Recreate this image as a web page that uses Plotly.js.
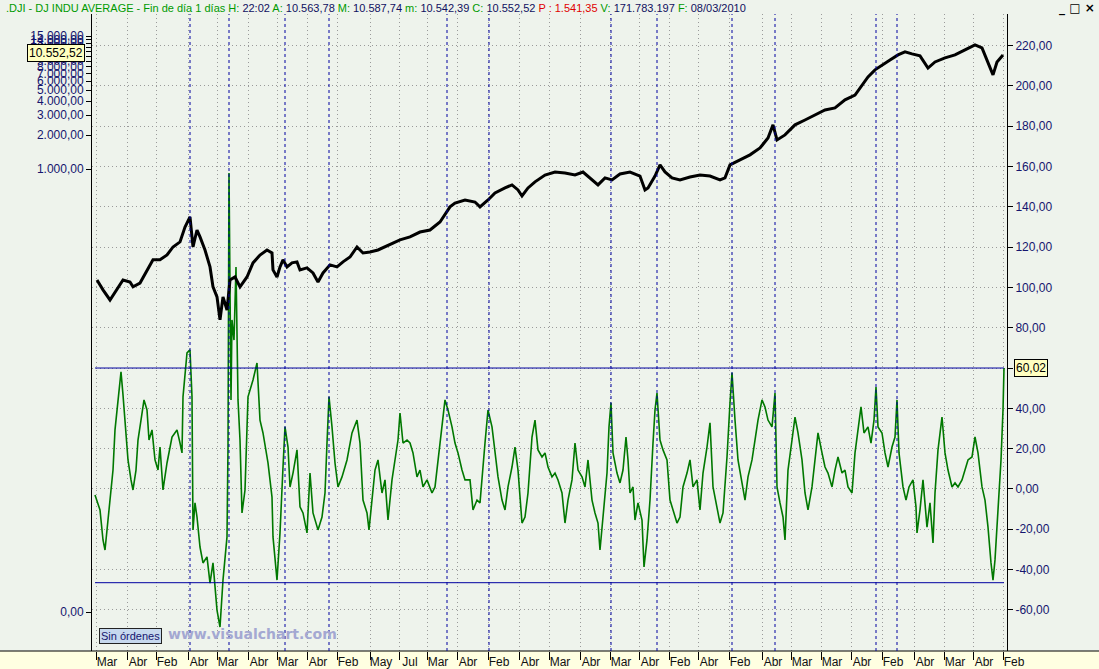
<!DOCTYPE html>
<html>
<head>
<meta charset="utf-8">
<script src="https://cdn.plot.ly/plotly-3.0.1.min.js"></script>
<style>
html,body{margin:0;padding:0;background:#EEF3EC;}
#chart{width:1099px;height:669px;}
</style>
</head>
<body>
<div id="chart"></div>
<script>
// ---- x axis: bar index, tick labels ----
const tickLabels = ['Mar','Abr','Feb','Abr','Mar','Abr','Mar','Abr','Feb','May','Jul','Mar','Abr','Feb','Abr','Mar','Abr','Mar','Abr','Feb','Abr','Feb','Abr','Mar','Mar','Abr','Feb','Abr','Mar','Abr','Feb'];
const tickBars = [1,32,61,93,122,153,182,212,242,275,304,332,362,393,424,454,485,515,544,574,603,634,667,696,726,756,787,819,849,878,908];

// ---- cycle marks (blue dashed verticals) ----
const cycleMarks = [95,134,190,234,352,394,516,562,637,680,781,802];

// ---- oscillator band levels ----
const bandLevels = [60.02, -46.5];

// ---- price line (black), right-axis scale ----
const priceBar = [2,8,15,22,28,35,38,45,52,58,65,72,78,85,90,95,98,102,105,110,115,118,122,125,128,132,135,140,145,152,158,165,172,177,178,182,185,188,192,197,202,205,212,218,223,228,235,242,248,255,262,268,275,283,305,315,325,335,345,350,355,360,370,380,385,393,400,410,417,423,427,433,440,450,460,470,480,488,495,503,510,517,525,535,545,550,553,560,565,570,577,585,595,605,615,625,630,635,645,655,665,673,678,682,690,700,710,720,730,740,750,760,767,773,780,787,795,803,810,817,825,833,840,850,860,870,880,887,893,898,902,908];
const priceVal = [103.7,98.8,93.8,98.8,103.7,102.7,100.3,102.2,108.7,113.7,113.7,116.1,120.1,122.6,130.0,135.0,120.1,128.5,125.1,118.6,110.2,100.3,95.3,83.9,95.3,88.8,103.7,105.2,100.3,105.2,112.2,116.1,118.6,117.1,108.7,105.2,110.2,113.7,110.2,112.2,112.7,108.7,109.7,107.2,102.7,107.2,111.2,110.2,112.7,115.1,120.1,117.1,117.6,118.6,123.6,125.1,127.5,128.5,132.5,136.0,140.0,141.9,143.4,142.4,140.0,143.4,146.9,149.4,150.9,148.4,145.4,149.4,152.4,155.8,157.3,156.8,155.8,157.3,154.4,150.9,154.4,153.4,156.3,157.3,155.3,148.4,149.4,155.3,160.8,157.3,154.4,153.4,154.8,155.8,155.3,153.4,154.4,160.8,163.3,165.8,169.2,174.2,180.7,173.2,175.7,180.7,183.1,185.6,188.1,189.1,193.1,195.5,200.5,204.5,208.0,210.4,212.9,215.4,216.9,215.9,214.9,208.9,211.9,213.9,215.4,217.9,220.4,218.9,211.9,205.5,211.9,215.4];

// ---- oscillator (green) ----
const oscBar = [0,5,8,10,13,15,18,20,23,26,28,31,33,36,38,41,43,46,49,52,54,57,60,63,65,68,72,77,82,85,87,88,92,95,97,98,100,102,105,108,112,115,118,122,125,128,132,133,134,136,137,139,141,143,145,147,150,153,158,162,165,168,173,177,178,182,185,188,190,193,195,198,202,205,208,212,215,218,223,227,230,232,234,237,240,243,247,252,257,262,265,268,272,274,277,280,283,287,290,293,297,300,303,305,308,312,315,318,322,325,328,332,337,340,343,347,350,353,357,360,363,367,370,375,378,382,385,390,393,397,400,403,407,410,413,417,420,423,427,430,433,437,440,443,447,450,453,457,460,463,467,470,473,477,480,483,487,490,493,497,500,503,505,508,512,514,516,518,522,525,528,531,533,535,538,540,543,547,549,552,555,558,560,562,565,568,572,575,578,582,585,588,592,595,598,602,605,608,612,615,618,622,625,628,632,635,637,640,643,647,650,653,657,660,663,667,670,673,677,680,682,685,688,690,693,697,700,703,707,710,713,717,720,723,727,730,733,737,740,743,747,750,753,757,760,763,766,769,773,776,779,781,783,787,790,793,797,800,802,804,808,811,814,818,821,822,825,828,832,835,838,840,843,847,850,853,857,860,863,867,870,873,877,880,883,887,890,893,896,898,900,903,906,908,909];
const oscVal = [-3.0,-10.4,-25.3,-30.3,-15.4,-5.5,9.4,29.3,44.2,58.1,46.7,29.3,14.4,4.5,-0.5,9.4,24.3,34.2,44.2,39.2,24.3,29.3,14.4,9.4,20.8,-0.5,12.9,25.8,29.3,22.8,17.9,45.7,67.5,69.0,45.7,-20.3,-6.9,-13.9,-28.8,-36.7,-33.7,-46.7,-36.7,-60.1,-68.5,-45.2,-23.8,20.8,156.8,44.2,83.9,73.9,110.2,44.2,24.3,-11.9,-0.5,45.7,54.1,62.5,34.2,27.8,12.9,-4.0,-23.8,-45.2,-21.8,10.9,30.8,20.8,1.0,7.9,19.4,-8.9,-11.9,-21.8,7.9,-11.9,-20.3,-13.9,-2.0,22.8,45.7,30.8,12.9,1.0,6.0,14.4,27.8,34.2,22.8,-5.5,-11.9,-20.3,-5.5,9.4,14.4,-2.0,4.5,-15.4,4.5,14.4,24.3,37.7,22.8,24.3,22.8,17.9,6.0,9.4,1.0,4.5,-2.0,1.0,14.4,29.3,44.2,39.2,30.8,22.8,17.9,9.4,4.5,4.5,-10.4,-5.5,-6.9,22.8,39.2,30.8,19.4,6.0,-5.5,-10.4,1.0,10.9,20.8,9.4,-16.9,-13.9,-2.0,25.8,34.2,19.4,15.9,17.9,10.9,6.0,7.9,4.5,-2.0,-16.9,-5.5,4.5,22.8,9.4,6.0,1.0,14.4,-5.5,-11.9,-16.9,-30.3,-13.9,7.9,30.8,42.7,17.9,7.9,3.0,9.4,25.8,14.4,-2.0,1.0,-15.4,-6.9,-15.4,-38.7,-25.3,-5.5,22.8,39.2,47.6,24.3,19.4,14.4,-5.5,-10.4,-16.9,-13.9,1.0,7.9,14.4,1.0,4.5,-10.4,7.9,20.8,32.8,1.0,-10.4,-16.9,-11.9,15.9,42.7,57.6,34.2,14.4,3.0,-5.5,6.0,14.4,24.3,34.2,44.2,40.7,34.2,30.8,47.6,1.0,-6.9,-13.9,-25.3,9.4,24.3,35.7,27.8,14.4,-2.0,-10.4,1.0,14.4,27.8,17.9,10.9,7.9,1.0,9.4,15.9,7.9,9.4,1.0,-2.0,17.9,30.8,40.7,27.8,30.8,22.8,34.2,50.6,30.8,27.8,17.9,10.9,20.8,25.8,44.2,17.9,1.0,-5.5,1.0,4.5,-8.9,-21.8,-10.4,4.5,-18.9,-6.9,-26.8,-2.0,19.4,35.7,17.9,9.4,1.0,3.0,1.0,4.5,9.4,14.4,15.9,25.8,17.9,1.0,-5.5,-18.9,-36.7,-45.2,-35.2,-10.4,14.4,39.2,60.0];

// ---- axis ticks ----
const rightTicks = [220,200,180,160,140,120,100,80,60,40,20,0,-20,-40,-60];
const leftTicks = [1000,2000,3000,4000,5000,6000,7000,8000,9000,10000,11000,12000,13000,14000,15000];
const leftZeroTick = 0.12;
const lastClose = 10552.52;
const lastOsc = 60.02;

function fmtES(v){
  const neg = v < 0;
  const s = Math.abs(v).toFixed(2).split('.');
  const intp = s[0].replace(/\B(?=(\d{3})+(?!\d))/g, '.');
  return (neg ? '-' : '') + intp + ',' + s[1];
}

const navy = '#15156e';
const FONT = 'Liberation Sans, Arial, sans-serif';

const traces = [
  {x: oscBar, y: oscVal, type: 'scatter', mode: 'lines', line: {color: '#007800', width: 1.6}, hoverinfo: 'skip', showlegend: false},
  {x: priceBar, y: priceVal, type: 'scatter', mode: 'lines', line: {color: '#000000', width: 3}, hoverinfo: 'skip', showlegend: false},
  {x: [], y: [], type: 'scatter', yaxis: 'y2', showlegend: false, hoverinfo: 'skip'}
];

const shapes = [];
// yellow x-axis band
shapes.push({type: 'rect', xref: 'paper', yref: 'paper', x0: -0.11, x1: 1.11, y0: -0.04, y1: 0, fillcolor: '#FFFFE1', line: {width: 0}, layer: 'below'});
// bottom border line across
shapes.push({type: 'line', xref: 'paper', yref: 'paper', x0: -0.11, x1: 1.11, y0: 0, y1: 0, line: {color: '#000', width: 1}});
cycleMarks.forEach(b => shapes.push({type: 'line', xref: 'x', yref: 'paper', x0: b, x1: b, y0: 0, y1: 1, line: {color: '#0000A0', width: 1, dash: '3px,3px'}}));
bandLevels.forEach(v => shapes.push({type: 'line', xref: 'x', yref: 'y', x0: oscBar[0], x1: oscBar[oscBar.length-1], y0: v, y1: v, line: {color: '#0000A0', width: 1}}));

const G = '#009a00', B = '#101060', R = '#e00000';
function sp(c, t){ return '<span style="color:' + c + '">' + t + '</span>'; }
const header = sp(G, '.DJI - DJ INDU AVERAGE - Fin de día 1 días H: ') + sp(B, '22:02') +
  sp(G, ' A: ') + sp(B, '10.563,78') +
  sp(G, ' M: ') + sp(B, '10.587,74') +
  sp(G, ' m: ') + sp(B, '10.542,39') +
  sp(G, ' C: ') + sp(B, '10.552,52') +
  sp(R, ' P : 1.541,35') +
  sp(G, ' V: ') + sp(B, '171.783.197') +
  sp(G, ' F: ') + sp(B, '08/03/2010');

const annotations = [
  {xref: 'paper', yref: 'paper', x: -0.0962, y: 1.0094, xanchor: 'left', yanchor: 'middle', text: header, showarrow: false, font: {family: FONT, size: 11}},
  {xref: 'paper', yref: 'paper', x: 1.0765, y: 1.0094, xanchor: 'center', yanchor: 'middle', text: '<b>_ □ ×</b>', showarrow: false, font: {family: 'DejaVu Sans', size: 12, color: '#000'}},
  {xref: 'paper', yref: 'y2', x: -0.0077, y: Math.log10(lastClose), xanchor: 'right', yanchor: 'middle', text: fmtES(lastClose), showarrow: false, bgcolor: '#FFFFC0', bordercolor: '#000', borderwidth: 1, borderpad: 1, font: {family: FONT, size: 12, color: '#000'}},
  {xref: 'paper', yref: 'y', x: 1.0077, y: lastOsc, xanchor: 'left', yanchor: 'middle', text: fmtES(lastOsc), showarrow: false, bgcolor: '#FFFFC0', bordercolor: '#000', borderwidth: 1, borderpad: 1, font: {family: FONT, size: 12, color: '#000'}},
  {xref: 'paper', yref: 'paper', x: 0.0426, y: 0.0235, xanchor: 'center', yanchor: 'middle', text: 'Sin órdenes', showarrow: false, bgcolor: '#C6D8EE', bordercolor: '#222', borderwidth: 1, borderpad: 1, font: {family: FONT, size: 11, color: '#15156e'}},
  {xref: 'paper', yref: 'paper', x: 0.1749, y: 0.0267, xanchor: 'center', yanchor: 'middle', text: '<b>www.visualchart.com</b>', showarrow: false, font: {family: 'DejaVu Sans', size: 14, color: '#A4A8D2'}}
];

const layout = {
  width: 1099, height: 669,
  margin: {l: 92, r: 92, t: 14, b: 18, pad: 0},
  paper_bgcolor: '#EEF3EC', plot_bgcolor: '#EEF3EC',
  font: {family: FONT, size: 12, color: navy},
  showlegend: false,
  xaxis: {
    range: [-3, 912], tickmode: 'array', tickvals: tickBars, ticktext: tickLabels,
    ticks: 'outside', ticklen: 8, tickcolor: '#000', tickwidth: 1,
    ticklabelshift: 11, ticklabelstandoff: -8,
    tickfont: {family: FONT, size: 12, color: '#111'},
    showgrid: true, gridcolor: '#9a9a9a', griddash: '1px,3px', gridwidth: 1,
    showline: false, zeroline: false, fixedrange: true
  },
  yaxis: {
    side: 'right', range: [-80.4, 235.7], tickmode: 'array', tickvals: rightTicks, ticktext: rightTicks.map(fmtES),
    ticks: 'outside', ticklen: 5, tickcolor: '#000',
    tickfont: {family: FONT, size: 12, color: navy},
    showgrid: true, gridcolor: '#9a9a9a', griddash: '1px,3px', gridwidth: 1,
    showline: true, linecolor: '#000', linewidth: 1, zeroline: false, fixedrange: true
  },
  yaxis2: {
    overlaying: 'y', side: 'left', type: 'log', range: [-1.265, 4.372],
    tickmode: 'array', tickvals: leftTicks.concat([leftZeroTick]), ticktext: leftTicks.map(fmtES).concat(['0,00']),
    ticks: 'outside', ticklen: 5, tickcolor: '#000',
    tickfont: {family: FONT, size: 12, color: navy},
    showgrid: false, showline: true, linecolor: '#000', linewidth: 1, zeroline: false, fixedrange: true
  },
  shapes: shapes,
  annotations: annotations
};

Plotly.newPlot('chart', traces, layout, {staticPlot: true, displayModeBar: false});
</script>
</body>
</html>
